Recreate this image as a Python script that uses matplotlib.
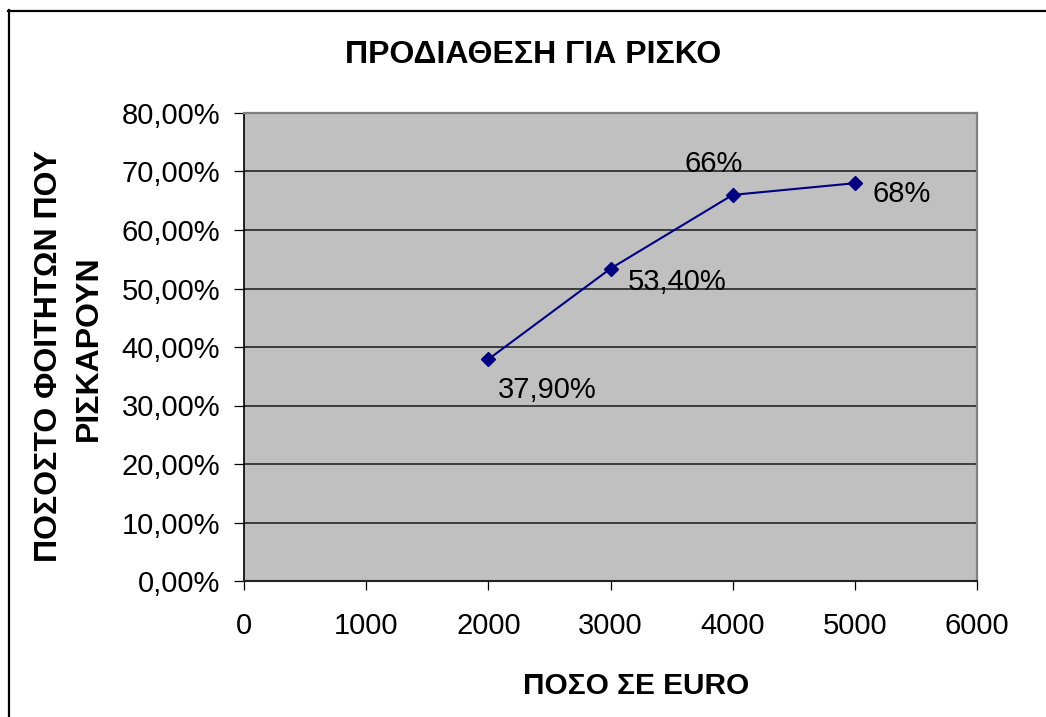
import matplotlib
matplotlib.use('Agg')
import matplotlib.pyplot as plt
from matplotlib.lines import Line2D
from matplotlib.ticker import FuncFormatter

amounts = [2000, 3000, 4000, 5000]
shares = [37.9, 53.4, 66.0, 68.0]
point_labels = ['37,90%', '53,40%', '66%', '68%']
x_ticks = [0, 1000, 2000, 3000, 4000, 5000, 6000]
y_ticks = [0, 10, 20, 30, 40, 50, 60, 70, 80]
title = 'ΠΡΟΔΙΑΘΕΣΗ ΓΙΑ ΡΙΣΚΟ'
xlabel = 'ΠΟΣΟ ΣΕ EURO'
ylabel_lines = ['ΠΟΣΟΣΤΟ ΦΟΙΤΗΤΩΝ ΠΟΥ', 'ΡΙΣΚΑΡΟΥΝ']

plt.rcParams['font.family'] = ['Liberation Sans', 'DejaVu Sans']

W, H = 1046, 717
fig = plt.figure(figsize=(W / 100, H / 100), dpi=100)
fig.patch.set_facecolor('white')


def fx(px):
    return px / W


def fy(py):
    return 1 - py / H


ax = fig.add_axes([fx(244), fy(581), fx(977) - fx(244), fy(113) - fy(581)])
ax.set_facecolor('#C0C0C0')
ax.set_xlim(0, 6000)
ax.set_ylim(0, 80)
ax.set_xticks(x_ticks)
ax.set_yticks(y_ticks)
ax.yaxis.set_major_formatter(FuncFormatter(lambda v, p: f'{v:.2f}'.replace('.', ',') + '%'))
ax.xaxis.set_major_formatter(FuncFormatter(lambda v, p: f'{int(v)}'))

ax.set_axisbelow(True)
ax.yaxis.grid(True, color='#3c3c3c', linewidth=1.4)
ax.xaxis.grid(False)

ax.spines['left'].set_color('black')
ax.spines['left'].set_linewidth(1.2)
ax.spines['bottom'].set_color('#222222')
ax.spines['bottom'].set_linewidth(1.5)
ax.spines['top'].set_color('#808080')
ax.spines['top'].set_linewidth(1.6)
ax.spines['right'].set_color('#808080')
ax.spines['right'].set_linewidth(1.6)

ax.tick_params(axis='y', direction='out', length=7.2, width=0.9, labelsize=21, pad=10, colors='black')
ax.tick_params(axis='x', direction='out', length=6.5, width=0.9, labelsize=21, pad=15.5, colors='black')

ax.plot(amounts, shares, color='#000080', linewidth=1.5, marker='D', markersize=7.5,
        markerfacecolor='#000080', markeredgecolor='#000080', zorder=3, clip_on=False)

offsets = [(10, -39), (17.5, -21.5), (-48, 23), (18, -19)]
for xv, yv, lab, off in zip(amounts, shares, point_labels, offsets):
    ax.annotate(lab, (xv, yv), xytext=off, textcoords='offset pixels',
                ha='left', va='baseline', fontsize=21, color='black')

fig.text(fx(533), fy(63), title, ha='center', va='baseline', fontsize=23, fontweight='bold')
fig.text(fx(636.5), fy(694), xlabel, ha='center', va='baseline', fontsize=21.5, fontweight='bold')
fig.text(fx(49.5), fy(356), ylabel_lines[0], ha='center', va='center', rotation=90,
         fontsize=23, fontweight='bold')
fig.text(fx(88.5), fy(348), ylabel_lines[1], ha='center', va='center', rotation=90,
         fontsize=23, fontweight='bold')

fig.add_artist(Line2D([fx(9), fx(9)], [fy(722), fy(10)], transform=fig.transFigure,
                      color='black', linewidth=1.6))
fig.add_artist(Line2D([fx(8), fx(1060)], [fy(11), fy(11)], transform=fig.transFigure,
                      color='black', linewidth=1.6))

fig.savefig('out.png', dpi=100)
